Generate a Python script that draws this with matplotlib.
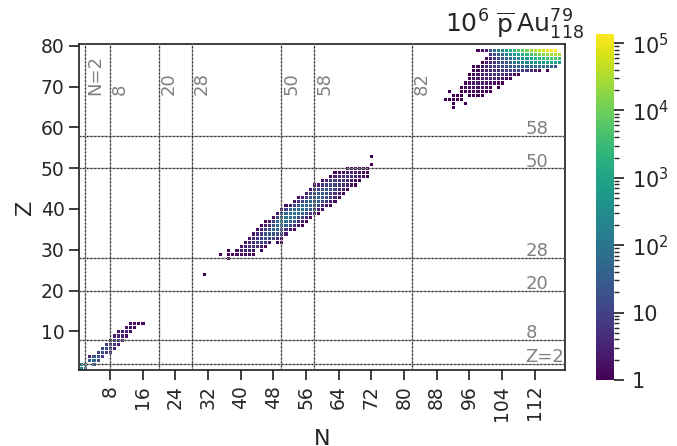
import numpy as np
import matplotlib
matplotlib.use("Agg")
import matplotlib.pyplot as plt
from matplotlib.colors import LogNorm

# nuclide chart rows: (Z, first N, log10(counts) for N, N+1, ...); None = empty cell
LIGHT_ROWS = [
    (12, 13, [0.2, 0.2, 0.2, 0.1]),
    (11, 12, [0.3, 0.3, 0.1]),
    (10, 10, [0.3, 0.5, 0.5, 0.3]),
    (9, 9, [0.4, 0.6, 0.5, 0.2]),
    (8, 8, [0.2, 0.8, 0.7, 0.4]),
    (7, 7, [0.9, 1.0, 0.8, 0.4]),
    (6, 6, [1.2, 1.3, 1.0, 0.6]),
    (5, 5, [1.1, 1.2, 0.9, 0.5]),
    (4, 3, [0.5, 1.3, 1.4, 0.9]),
    (3, 3, [1.6, 1.7, 1.2]),
    (2, 1, [2.3, 2.4, None, 1.5]),
    (1, 1, [2.2, 1.9]),
]

MID_ROWS = [
    (53, 72, [0.0]),
    (51, 72, [0.0]),
    (50, 66, [0.1, 0.2, 0.2, 0.2, 0.1, 0.0]),
    (49, 63, [0.0, 0.2, 0.4, 0.4, 0.5, 0.4, 0.3, 0.2, 0.1]),
    (48, 62, [0.1, 0.4, 0.6, 0.7, 0.7, 0.6, 0.5, 0.3, 0.2, 0.0]),
    (47, 60, [0.2, 0.5, 0.8, 0.9, 0.9, 0.8, 0.6, 0.4, 0.2, 0.0]),
    (46, 58, [0.0, 0.4, 0.8, 1.0, 1.1, 1.1, 0.9, 0.7, 0.5, 0.3, 0.0]),
    (45, 57, [0.3, 0.8, 1.1, 1.3, 1.3, 1.2, 1.0, 0.7, 0.4, 0.1]),
    (44, 56, [0.5, 1.1, 1.4, 1.5, 1.5, 1.3, 1.0, 0.7, 0.4, 0.1]),
    (43, 54, [0.2, 0.6, 0.9, 1.3, 1.5, 1.6, 1.5, 1.2, 0.9, 0.5, 0.2]),
    (42, 53, [0.3, 0.7, 1.1, 1.4, 1.6, 1.6, 1.5, 1.2, 0.8, 0.4, 0.1]),
    (41, 51, [0.2, 0.6, 1.0, 1.4, 1.6, 1.7, 1.6, 1.4, 1.1, 0.7, 0.3, 0.1]),
    (40, 50, [0.6, 1.0, 1.5, 1.7, 1.8, 1.8, 1.6, 1.4, 1.0, 0.5, 0.2]),
    (39, 49, [0.3, 1.3, 1.7, 1.9, 1.9, 1.8, 1.5, 1.2, 0.7, 0.3, 0.0]),
    (38, 48, [0.2, 1.0, 1.9, 2.0, 2.0, 1.8, 1.4, 1.0, 0.5, 0.1]),
    (37, 46, [0.1, 0.4, 0.9, 1.8, 2.0, 1.9, 1.6, 1.3, 0.8, 0.4, 0.1]),
    (36, 45, [0.1, 0.4, 0.8, 1.3, 1.9, 1.8, 1.5, 1.1, 0.7, 0.3, 0.0]),
    (35, 44, [0.2, 0.5, 0.9, 1.3, 1.6, 1.6, 1.3, 0.8, 0.4, 0.1]),
    (34, 43, [0.3, 0.6, 0.9, 1.2, 1.4, 1.3, 1.4, 1.0, 0.5]),
    (33, 42, [0.3, 0.6, 0.8, 1.0, 1.2, 1.1, 1.0, 0.6, 0.2]),
    (32, 41, [0.3, 0.5, 0.7, 0.9, 0.9, 0.8, 0.4, None, 0.1, 0.0]),
    (31, 40, [0.3, 0.5, 0.7, 0.7, 0.6, 0.3, 0.1]),
    (30, 37, [0.0, None, 0.2, 0.4, 0.5, 0.5, 0.3, None, 0.1]),
    (29, 35, [0.0, None, 0.0, 0.1, 0.1, 0.1, 0.1, 0.1, 0.0]),
    (28, 37, [0.0]),
    (24, 31, [0.0]),
]

AU_ROWS = [
    (79, 98, [0.1, 0.2, 0.4, 1.3, 1.7, 2.2, 2.5, 2.8, 3.1, 3.4, 3.7, 3.9, 4.1, 4.3,
              4.5, 4.7, 4.8, 4.9, 5.0, 5.1]),
    (78, 101, [0.8, 1.2, 1.5, 1.8, 2.1, 2.4, 2.7, 2.9, 3.2, 3.4, 3.6, 3.8, 4.0, 4.2,
               4.3, 4.4, 4.5, 4.5]),
    (77, 100, [0.2, 0.5, 0.8, 1.1, 1.4, 1.6, 1.9, 2.1, 2.3, 2.5, 2.7, 2.9, 3.1, 3.3,
               3.4, 3.5, 3.6, 3.7, 3.6]),
    (76, 99, [0.0, 0.3, 0.5, 0.8, 1.0, 1.2, 1.4, 1.6, 1.8, 2.0, 2.2, 2.3, 2.5, 2.6,
              2.7, 2.8, 2.9, 3.0, 2.9, 2.7]),
    (75, 97, [0.0, 0.1, 0.3, 0.5, 0.7, 0.9, 1.0, 1.2, 1.3, 1.4, 1.5, 1.6, 1.7, 1.8,
              1.8, 1.9, 1.9, 1.9, 1.8, 1.6, 1.4]),
    (74, 97, [0.0, 0.1, 0.3, 0.4, 0.5, 0.6, 0.7, 0.8, 0.9, 1.0, 1.0, 1.0, 0.9, 0.8,
              0.6, 0.4, 0.2, None, 0.0]),
    (73, 96, [0.0, 0.2, 0.3, 0.4, 0.5, 0.6, 0.7, 0.7, 0.7, 0.6, 0.4, 0.2, 0.0]),
    (72, 96, [0.1, 0.2, 0.3, 0.4, 0.5, 0.5, 0.5, 0.4, 0.3, 0.1, 0.0]),
    (71, 95, [0.0, 0.2, 0.3, 0.4, 0.4, 0.4, 0.3, 0.2, 0.1, 0.0]),
    (70, 94, [0.0, 0.1, 0.2, 0.3, 0.3, 0.3, 0.2, 0.1, None, 0.0]),
    (69, 91, [0.0, None, None, 0.0, 0.1, 0.1, 0.2, 0.1, 0.1, 0.0, 0.0]),
    (68, 92, [0.0, 0.0, 0.0, None, 0.0, 0.1, 0.0, 0.0]),
    (67, 90, [0.0, 0.0, 0.0, 0.0, 0.0]),
    (66, 92, [0.0, None, None, 0.0]),
    (65, 92, [0.0]),
]

N_MAGIC = [2, 8, 20, 28, 50, 58, 82]
Z_MAGIC = [2, 8, 20, 28, 50, 58]
N_TICKS = list(range(8, 113, 8))
Z_TICKS = list(range(10, 81, 10))

TXT = "#262626"
plt.rcParams.update({
    "font.family": "DejaVu Sans",
    "font.size": 13,
    "text.color": TXT,
    "axes.labelcolor": TXT,
    "xtick.color": TXT,
    "ytick.color": TXT,
    "axes.edgecolor": TXT,
    "axes.linewidth": 1.25,
})

counts = np.full((81, 120), np.nan)
for rows in (LIGHT_ROWS, MID_ROWS, AU_ROWS):
    for z, n0, vals in rows:
        for i, v in enumerate(vals):
            if v is not None:
                counts[z, n0 + i] = 10 ** v

fig = plt.figure(figsize=(6.77, 4.46), dpi=100)
ax = fig.add_axes([0.117, 0.170, 0.718, 0.732])
cax = fig.add_axes([0.880, 0.148, 0.027, 0.776])

n_edges = np.arange(-0.5, 120, 1)
z_edges = np.arange(-0.5, 81, 1)
mesh = ax.pcolormesh(n_edges, z_edges, np.ma.masked_invalid(counts),
                     cmap="viridis", norm=LogNorm(vmin=1, vmax=1.37e5),
                     edgecolors="white", linewidth=0.55)

for n in N_MAGIC:
    ax.axvline(n, color="0.55", lw=0.9, zorder=3)
    ax.axvline(n, color="0.15", lw=0.9, ls=(0, (1, 2)), zorder=3)
    lab = "N=2" if n == 2 else str(n)
    ax.text(n + 0.25, 68, lab, rotation=90, ha="left", va="bottom",
            color="0.5", fontsize=13)
for z in Z_MAGIC:
    ax.axhline(z, color="0.55", lw=0.9, zorder=3)
    ax.axhline(z, color="0.15", lw=0.9, ls=(0, (1, 2)), zorder=3)
    lab = "Z=2" if z == 2 else str(z)
    ax.text(109.7, z + 0.4, lab, ha="left", va="baseline",
            color="0.5", fontsize=13)

ax.set_xlim(0.5, 119.5)
ax.set_ylim(0.5, 80.5)
ax.set_xticks(N_TICKS)
ax.set_xticklabels([str(t) for t in N_TICKS], rotation=90)
ax.set_yticks(Z_TICKS)
ax.tick_params(length=7, width=1.25, direction="out", labelsize=13.5)
ax.set_xlabel("N", fontsize=16, labelpad=6)
ax.set_ylabel("Z", fontsize=16)

cb = fig.colorbar(mesh, cax=cax)
cb.outline.set_visible(False)
cb.set_ticks([1, 10, 1e2, 1e3, 1e4, 1e5])
cb.set_ticklabels(["1", "10", "$10^2$", "$10^3$", "$10^4$", "$10^5$"])
cax.tick_params(which="major", length=7, width=1.25, pad=6, labelsize=15)
cax.tick_params(which="minor", length=3.5, width=1.0)

fig.text(0.657, 0.926, r"10$^6$ $\overline{\mathrm{p}}\,$Au$^{79}_{118}$",
         fontsize=18, ha="left", va="baseline")

fig.savefig("out.png", dpi=100)
